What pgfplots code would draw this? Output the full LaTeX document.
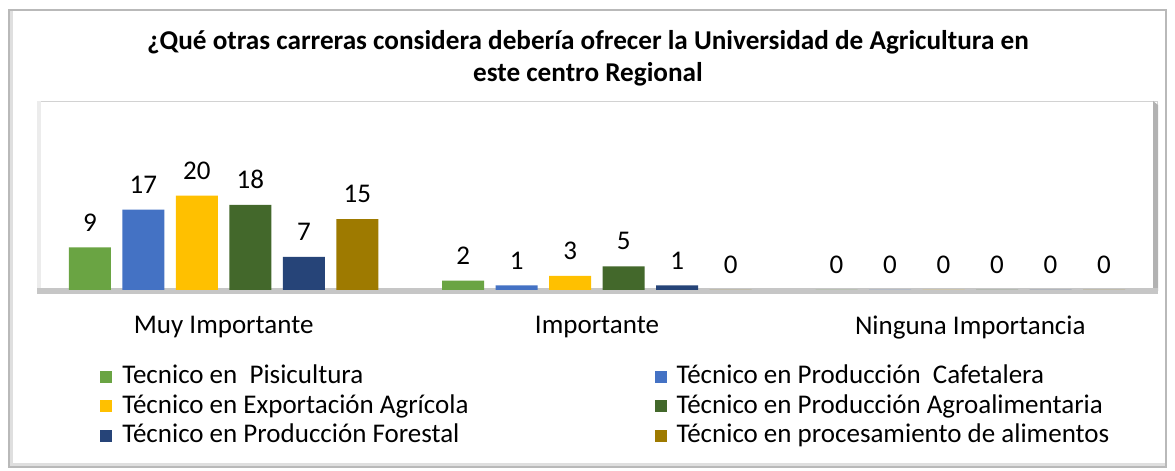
\documentclass[border=0pt]{standalone}
\usepackage{pgfplots}
\pgfplotsset{compat=1.18}
\usepackage{fontspec}
\setmainfont{Carlito}
\definecolor{cA}{HTML}{6AA443}
\definecolor{cB}{HTML}{4472C4}
\definecolor{cC}{HTML}{FFC000}
\definecolor{cD}{HTML}{43682B}
\definecolor{cE}{HTML}{264478}
\definecolor{cF}{HTML}{9E7A00}
\pgfplotsset{
  legsq/.style={legend image code/.code={\fill[##1] (0pt,-5pt) rectangle (12pt,7pt);}},
}
\begin{document}
\begin{tikzpicture}
% canvas
\fill[white] (0pt,0pt) rectangle (1175pt,471pt);
% outer frame
\draw[gray!55, line width=1.2pt] (9pt,4pt) rectangle (1166pt,461pt);
\fill[gray!25] (9.6pt,4.6pt) rectangle (13pt,460.4pt);
\fill[gray!25] (9.6pt,4.6pt) rectangle (1165.4pt,8pt);
% title
\node[align=center, font=\fontsize{27.2}{32}\selectfont\bfseries] at (588pt,413pt)
  {¿Qué otras carreras considera debería ofrecer la Universidad de Agricultura en\\este centro Regional};
% plot area frame
\draw[gray!35, line width=0.8pt] (37pt,181pt) rectangle (1157pt,370pt);
\fill[gray!15] (37pt,181pt) rectangle (41pt,370pt);
\fill[gray!60] (1153pt,181pt) -- (1158pt,180pt) -- (1158pt,366pt) -- (1153pt,370pt) -- cycle;
\fill[gray!45] (37pt,177pt) rectangle (1158pt,183pt);
\begin{axis}[
  at={(37pt,181pt)}, anchor=south west,
  scale only axis, width=1120pt, height=189pt,
  ybar=11.5pt, bar width=42pt,
  xmin=-0.5, xmax=2.5, ymin=0, ymax=40,
  axis line style={draw=none},
  ytick=\empty,
  xtick={0,1,2},
  xticklabels={Muy Importante, Importante, Ninguna Importancia},
  major tick length=0pt,
  /pgf/number format/assume math mode=true,
  xticklabel style={anchor=north, inner sep=0pt, yshift=-26pt, font=\fontsize{27}{30}\selectfont},
  nodes near coords,
  every node near coord/.append style={anchor=south, inner sep=0pt, yshift=16pt, font=\fontsize{27}{30}\selectfont, text=black},
  legend columns=2,
  legend cell align=left,
  legend style={draw=none, fill=none, at={(0.0563,-0.405)}, anchor=north west, inner sep=0pt,
    font=\fontsize{27}{30}\selectfont,
    nodes={inner sep=0pt, text height=17pt, text depth=5pt},
    row sep=7.5pt,
    /tikz/every even column/.append style={column sep=186pt},
    /tikz/every odd column/.append style={column sep=10pt}},
  legsq,
]
\addplot[fill=cA, draw=none] coordinates {(0,9) (1,2) (2,0)};
\addplot[fill=cB, draw=none] coordinates {(0,17) (1,1) (2,0)};
\addplot[fill=cC, draw=none] coordinates {(0,20) (1,3) (2,0)};
\addplot[fill=cD, draw=none] coordinates {(0,18) (1,5) (2,0)};
\addplot[fill=cE, draw=none] coordinates {(0,7) (1,1) (2,0)};
\addplot[fill=cF, draw=none] coordinates {(0,15) (1,0) (2,0)};
\legend{Tecnico en \ Pisicultura, Técnico en Producción \ Cafetalera, Técnico en Exportación Agrícola, Técnico en Producción Agroalimentaria, Técnico en Producción Forestal, Técnico en procesamiento de alimentos}
\end{axis}
\end{tikzpicture}
\end{document}
